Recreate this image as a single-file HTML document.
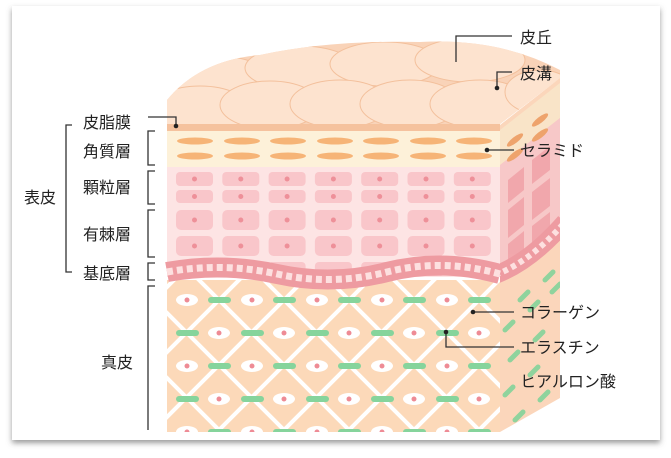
<!DOCTYPE html>
<html><head><meta charset="utf-8"><style>
html,body{margin:0;padding:0;background:#fff;width:671px;height:458px;overflow:hidden;font-family:"Liberation Sans","Noto Sans CJK JP",sans-serif}
svg{display:block}
</style></head><body>
<svg width="671" height="458" viewBox="0 0 671 458" xmlns="http://www.w3.org/2000/svg" font-family="Liberation Sans, Noto Sans CJK JP, sans-serif">
<defs>
<filter id="sh" x="-5%" y="-5%" width="110%" height="115%"><feDropShadow dx="0" dy="3" stdDeviation="3" flood-color="#555" flood-opacity="0.6"/></filter>
<clipPath id="derm"><rect x="167" y="280" width="333" height="152"/></clipPath>
<clipPath id="side"><polygon points="500,125 560,78 560,398 500,432"/></clipPath>
<clipPath id="top"><path d="M167,124 L167,100 Q200,60 260,55 Q330,40 420,42 Q500,38 560,70 L560,78 L500,124 Z"/></clipPath>
</defs>
<rect x="12" y="6" width="648" height="434" fill="#fff" filter="url(#sh)"/>
<g clip-path="url(#top)">
<rect x="160" y="30" width="410" height="100" fill="#f9d3b8"/>
<g fill="#fde3cf" stroke="#f3c09c" stroke-width="1">
<ellipse cx="215" cy="78" rx="55" ry="22"/><ellipse cx="300" cy="68" rx="55" ry="22"/><ellipse cx="385" cy="64" rx="55" ry="22"/><ellipse cx="470" cy="60" rx="55" ry="22"/>
<ellipse cx="200" cy="110" rx="50" ry="24"/><ellipse cx="270" cy="105" rx="50" ry="24"/><ellipse cx="340" cy="104" rx="50" ry="24"/><ellipse cx="410" cy="104" rx="50" ry="24"/><ellipse cx="480" cy="104" rx="50" ry="24"/><ellipse cx="540" cy="92" rx="35" ry="22"/>
</g>
</g>
<g clip-path="url(#side)">
<rect x="495" y="60" width="70" height="380" fill="#fbd6bb"/>
<polygon points="500,130 560,83 560,118 500,165" fill="#f9e4c8"/>
<polygon points="500,165 560,118 560,230 500,275" fill="#f7c8c8"/>
<g fill="#f0a0a6" opacity="0.8">
<polygon points="508,180 524,167 524,190 508,203"/><polygon points="532,160 550,146 550,170 532,184"/>
<polygon points="508,210 524,197 524,225 508,238"/><polygon points="532,192 550,178 550,206 532,220"/>
<polygon points="508,244 524,231 524,258 508,270"/><polygon points="532,226 550,212 550,238 532,252"/>
</g>
<g fill="#eea36c"><ellipse cx="515" cy="140" rx="10" ry="3" transform="rotate(-38 515 140)"/><ellipse cx="540" cy="120" rx="10" ry="3" transform="rotate(-38 540 120)"/><ellipse cx="515" cy="155" rx="10" ry="3" transform="rotate(-38 515 155)"/><ellipse cx="540" cy="135" rx="10" ry="3" transform="rotate(-38 540 135)"/></g>
<path d="M495,275 Q530,262 565,222" stroke="#ee9ba1" stroke-width="18" fill="none"/>
<path d="M495,275 Q530,262 565,222" stroke="#fde0e0" stroke-width="6" stroke-dasharray="5 4" fill="none"/>
<g stroke="#8fd39d" stroke-width="5" stroke-linecap="round">
<line x1="520" y1="300" x2="528" y2="292"/><line x1="545" y1="280" x2="553" y2="272"/><line x1="505" y1="330" x2="513" y2="322"/><line x1="530" y1="310" x2="538" y2="302"/><line x1="552" y1="292" x2="560" y2="284"/>
<line x1="510" y1="360" x2="518" y2="352"/><line x1="535" y1="340" x2="543" y2="332"/><line x1="505" y1="395" x2="513" y2="387"/><line x1="530" y1="375" x2="538" y2="367"/><line x1="515" y1="420" x2="523" y2="412"/><line x1="540" y1="400" x2="548" y2="392"/>
</g>
</g>
<rect x="167" y="124" width="333" height="7" fill="#f5c29e"/>
<rect x="167" y="131" width="333" height="36" fill="#fdf1d9"/>
<g fill="#f6b477">
<g id="ell"><ellipse cx="195" cy="141" rx="18" ry="3.5"/><ellipse cx="242" cy="141" rx="18" ry="3.5"/><ellipse cx="288" cy="141" rx="18" ry="3.5"/><ellipse cx="335" cy="141" rx="18" ry="3.5"/><ellipse cx="381" cy="141" rx="18" ry="3.5"/><ellipse cx="428" cy="141" rx="18" ry="3.5"/><ellipse cx="474" cy="141" rx="18" ry="3.5"/></g>
<use href="#ell" y="15"/>
</g>
<rect x="167" y="167" width="333" height="110" fill="#fde4e4"/>
<g fill="#f9c6ca">
<g id="col"><rect x="176" y="172" width="37" height="14" rx="4"/><rect x="176" y="190" width="37" height="13" rx="4"/><rect x="176" y="210" width="37" height="20" rx="5"/><rect x="176" y="236" width="37" height="20" rx="5"/><rect x="176" y="262" width="37" height="14" rx="4"/></g>
<use href="#col" x="46.3"/><use href="#col" x="92.6"/><use href="#col" x="138.9"/><use href="#col" x="185.2"/><use href="#col" x="231.5"/><use href="#col" x="277.8"/>
</g>
<g fill="#ee9099">
<g id="nuc"><circle cx="194.5" cy="179" r="2.5"/><circle cx="194.5" cy="196.5" r="2.5"/><circle cx="194.5" cy="220" r="2.5"/><circle cx="194.5" cy="246" r="2.5"/></g>
<use href="#nuc" x="46.3"/><use href="#nuc" x="92.6"/><use href="#nuc" x="138.9"/><use href="#nuc" x="185.2"/><use href="#nuc" x="231.5"/><use href="#nuc" x="277.8"/>
</g>
<g clip-path="url(#derm)">
<rect x="160" y="270" width="350" height="170" fill="#fcd9b9"/>
<g stroke="#fff" stroke-width="4">
<line x1="-221" y1="250" x2="-21" y2="450"/><line x1="-156" y1="250" x2="44" y2="450"/><line x1="-91" y1="250" x2="109" y2="450"/><line x1="-26" y1="250" x2="174" y2="450"/><line x1="39" y1="250" x2="239" y2="450"/><line x1="104" y1="250" x2="304" y2="450"/><line x1="169" y1="250" x2="369" y2="450"/><line x1="234" y1="250" x2="434" y2="450"/><line x1="299" y1="250" x2="499" y2="450"/><line x1="364" y1="250" x2="564" y2="450"/><line x1="429" y1="250" x2="629" y2="450"/><line x1="494" y1="250" x2="694" y2="450"/>
<line x1="9" y1="250" x2="-191" y2="450"/><line x1="74" y1="250" x2="-126" y2="450"/><line x1="139" y1="250" x2="-61" y2="450"/><line x1="204" y1="250" x2="4" y2="450"/><line x1="269" y1="250" x2="69" y2="450"/><line x1="334" y1="250" x2="134" y2="450"/><line x1="399" y1="250" x2="199" y2="450"/><line x1="464" y1="250" x2="264" y2="450"/><line x1="529" y1="250" x2="329" y2="450"/><line x1="594" y1="250" x2="394" y2="450"/><line x1="659" y1="250" x2="459" y2="450"/><line x1="724" y1="250" x2="524" y2="450"/>
</g>
<g id="er1">
<g fill="#fff"><ellipse cx="187" cy="300" rx="11" ry="6"/><ellipse cx="252" cy="300" rx="11" ry="6"/><ellipse cx="317" cy="300" rx="11" ry="6"/><ellipse cx="382" cy="300" rx="11" ry="6"/><ellipse cx="447" cy="300" rx="11" ry="6"/></g>
<g fill="#ee8b95"><circle cx="187" cy="300" r="2.5"/><circle cx="252" cy="300" r="2.5"/><circle cx="317" cy="300" r="2.5"/><circle cx="382" cy="300" r="2.5"/><circle cx="447" cy="300" r="2.5"/></g>
<g fill="#86d49c"><rect x="208" y="297" width="23" height="6" rx="3"/><rect x="273" y="297" width="23" height="6" rx="3"/><rect x="338" y="297" width="23" height="6" rx="3"/><rect x="403" y="297" width="23" height="6" rx="3"/><rect x="468" y="297" width="23" height="6" rx="3"/></g>
</g>
<g id="er2">
<g fill="#fff"><ellipse cx="219" cy="333" rx="11" ry="6"/><ellipse cx="284" cy="333" rx="11" ry="6"/><ellipse cx="349" cy="333" rx="11" ry="6"/><ellipse cx="414" cy="333" rx="11" ry="6"/><ellipse cx="479" cy="333" rx="11" ry="6"/></g>
<g fill="#ee8b95"><circle cx="219" cy="333" r="2.5"/><circle cx="284" cy="333" r="2.5"/><circle cx="349" cy="333" r="2.5"/><circle cx="414" cy="333" r="2.5"/><circle cx="479" cy="333" r="2.5"/></g>
<g fill="#86d49c"><rect x="176" y="330" width="23" height="6" rx="3"/><rect x="241" y="330" width="23" height="6" rx="3"/><rect x="306" y="330" width="23" height="6" rx="3"/><rect x="371" y="330" width="23" height="6" rx="3"/><rect x="436" y="330" width="23" height="6" rx="3"/></g>
</g>
<use href="#er1" y="66"/><use href="#er2" y="66"/><use href="#er1" y="132"/>
</g>
<path d="M167,272 Q222,262 277,274 Q332,286 387,272 Q442,258 500,274" stroke="#ee9ba1" stroke-width="20" fill="none"/>
<path d="M167,272 Q222,262 277,274 Q332,286 387,272 Q442,258 500,274" stroke="#fde0e0" stroke-width="7" stroke-dasharray="6 4" fill="none"/>
<g stroke="#333" stroke-width="1.3" fill="none">
<path d="M72,125 H66 V272 H72"/>
<path d="M155,131 H148 V165 H155"/><path d="M155,171 H148 V204 H155"/><path d="M155,210 H148 V257 H155"/><path d="M155,263 H148 V280 H155"/><path d="M155,286 H148 V430"/>
<path d="M148,117 H176 V125"/>
<path d="M512,36 H456 V62"/><path d="M512,72 H497 V86"/>
<path d="M488,150 H514"/><path d="M474,312 H514"/><path d="M446,333 V347 H514"/>
</g>
<g fill="#222"><circle cx="176" cy="126" r="2.3"/><circle cx="497" cy="88" r="2.3"/><circle cx="487" cy="150" r="2.3"/><circle cx="473" cy="312" r="2.3"/><circle cx="446" cy="332" r="2.3"/></g>
<g font-size="16" fill="#222">
<text x="83" y="128">皮脂膜</text><text x="83" y="157">角質層</text><text x="83" y="193">顆粒層</text><text x="83" y="240">有棘層</text><text x="83" y="279">基底層</text>
<text x="24" y="203">表皮</text><text x="101" y="368">真皮</text>
<text x="520" y="43">皮丘</text><text x="520" y="79">皮溝</text><text x="520" y="156">セラミド</text>
<text x="520" y="318">コラーゲン</text><text x="520" y="353">エラスチン</text><text x="520" y="387">ヒアルロン酸</text>
</g>
</svg>
</body></html>
